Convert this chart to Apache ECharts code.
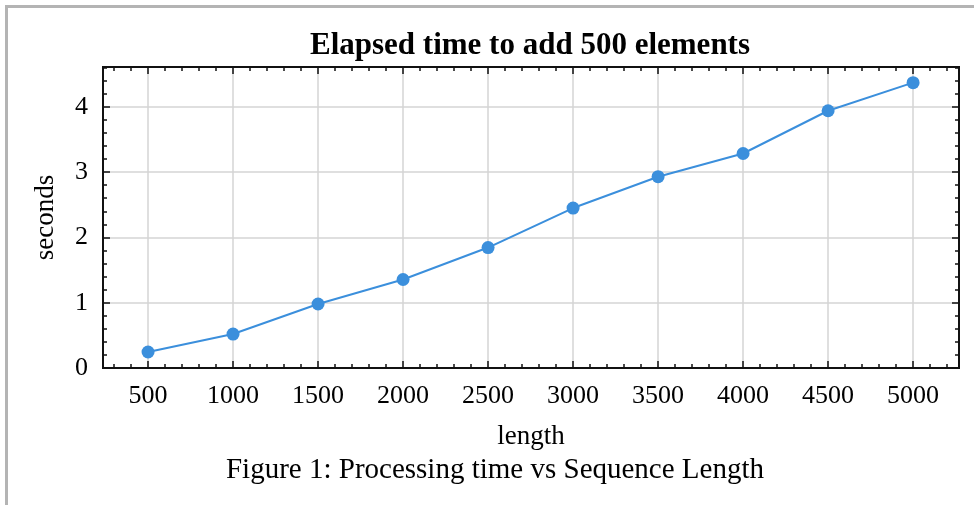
<!DOCTYPE html>
<html>
<head>
<meta charset="utf-8">
<script src="https://cdn.jsdelivr.net/npm/echarts@6/dist/echarts.min.js"></script>
<style>html,body{margin:0;padding:0;background:#fff;}#c{width:974px;height:505px;}</style>
</head>
<body>
<div id="c"></div>
<script>
const lengths = [500, 1000, 1500, 2000, 2500, 3000, 3500, 4000, 4500, 5000];
const seconds = [0.245, 0.52, 0.98, 1.355, 1.845, 2.45, 2.93, 3.285, 3.94, 4.37];
const xMajorTicks = [500, 1000, 1500, 2000, 2500, 3000, 3500, 4000, 4500, 5000];
const xMinorTicks = [300, 400, 600, 700, 800, 900, 1100, 1200, 1300, 1400, 1600, 1700, 1800, 1900,
  2100, 2200, 2300, 2400, 2600, 2700, 2800, 2900, 3100, 3200, 3300, 3400, 3600, 3700, 3800, 3900,
  4100, 4200, 4300, 4400, 4600, 4700, 4800, 4900, 5100, 5200];
const yMajorTicks = [0, 1, 2, 3, 4];
const yMinorTicks = [0.2, 0.4, 0.6, 0.8, 1.2, 1.4, 1.6, 1.8, 2.2, 2.4, 2.6, 2.8, 3.2, 3.4, 3.6, 3.8, 4.2, 4.4, 4.6];
const titleText = 'Elapsed time to add 500 elements';
const xName = 'length';
const yName = 'seconds';
const captionText = 'Figure 1: Processing time vs Sequence Length';

const X_MIN = 235, X_MAX = 5270, Y_MIN = 0, Y_MAX = 4.61;
const FONT = '"Liberation Serif", "DejaVu Serif", serif';
const lineStyleAxis = { color: '#111', width: 2 };
const plain = v => String(v);

function xAxisDef(pos, ticks, len, opts) {
  return Object.assign({
    type: 'value', position: pos, min: X_MIN, max: X_MAX,
    axisLine: { show: true, onZero: false, lineStyle: lineStyleAxis },
    axisTick: { show: true, inside: true, length: len, customValues: ticks, lineStyle: { color: '#111', width: 1.5 } },
    axisLabel: { show: false },
    splitLine: { show: false }
  }, opts || {});
}
function yAxisDef(pos, ticks, len, opts) {
  return Object.assign({
    type: 'value', position: pos, min: Y_MIN, max: Y_MAX,
    axisLine: { show: true, onZero: false, lineStyle: lineStyleAxis },
    axisTick: { show: true, inside: true, length: len, customValues: ticks, lineStyle: { color: '#111', width: 1.5 } },
    axisLabel: { show: false },
    splitLine: { show: false }
  }, opts || {});
}

const chart = echarts.init(document.getElementById('c'), null, { renderer: 'canvas' });
chart.setOption({
  backgroundColor: '#fff',
  animation: false,
  title: {
    text: titleText, left: 525, top: 25, textAlign: 'center',
    textStyle: { fontFamily: FONT, fontWeight: 'bold', fontSize: 31, color: '#000' }
  },
  grid: { left: 103, right: 15, top: 67, bottom: 137, containLabel: false },
  xAxis: [
    xAxisDef('bottom', xMajorTicks, 7, {
      name: xName, nameLocation: 'middle', nameGap: 55,
      nameTextStyle: { fontFamily: FONT, fontSize: 27, color: '#000' },
      axisLabel: { show: true, customValues: xMajorTicks, formatter: plain, margin: 15, fontFamily: FONT, fontSize: 26, color: '#000' },
      splitLine: { show: true, lineStyle: { color: '#d4d4d4', width: 1.5 } }
    }),
    xAxisDef('bottom', xMinorTicks, 4),
    xAxisDef('top', xMajorTicks, 7),
    xAxisDef('top', xMinorTicks, 4)
  ],
  yAxis: [
    yAxisDef('left', yMajorTicks, 7, {
      name: yName, nameLocation: 'middle', nameGap: 44, nameRotate: 90,
      nameTextStyle: { fontFamily: FONT, fontSize: 27, color: '#000' },
      axisLabel: { show: true, customValues: yMajorTicks, formatter: plain, margin: 15, fontFamily: FONT, fontSize: 26, color: '#000' },
      splitLine: { show: true, lineStyle: { color: '#d4d4d4', width: 1.5 } }
    }),
    yAxisDef('left', yMinorTicks, 4),
    yAxisDef('right', yMajorTicks, 7),
    yAxisDef('right', yMinorTicks, 4)
  ],
  graphic: [
    { type: 'rect', shape: { x: 6.5, y: 6.5, width: 1000, height: 1000 }, style: { fill: 'none', stroke: '#b4b4b4', lineWidth: 3 }, silent: true },
    { type: 'text', x: 495, y: 470, style: { text: captionText, fontFamily: FONT, fontSize: 29, fill: '#000', align: 'center', verticalAlign: 'middle' } }
  ],
  series: [{
    type: 'line', xAxisIndex: 0, yAxisIndex: 0,
    data: lengths.map((l, i) => [l, seconds[i]]),
    symbol: 'circle', symbolSize: 13,
    lineStyle: { color: '#3b8fdc', width: 2 },
    itemStyle: { color: '#3b8fdc' }
  }]
});
</script>
</body>
</html>
